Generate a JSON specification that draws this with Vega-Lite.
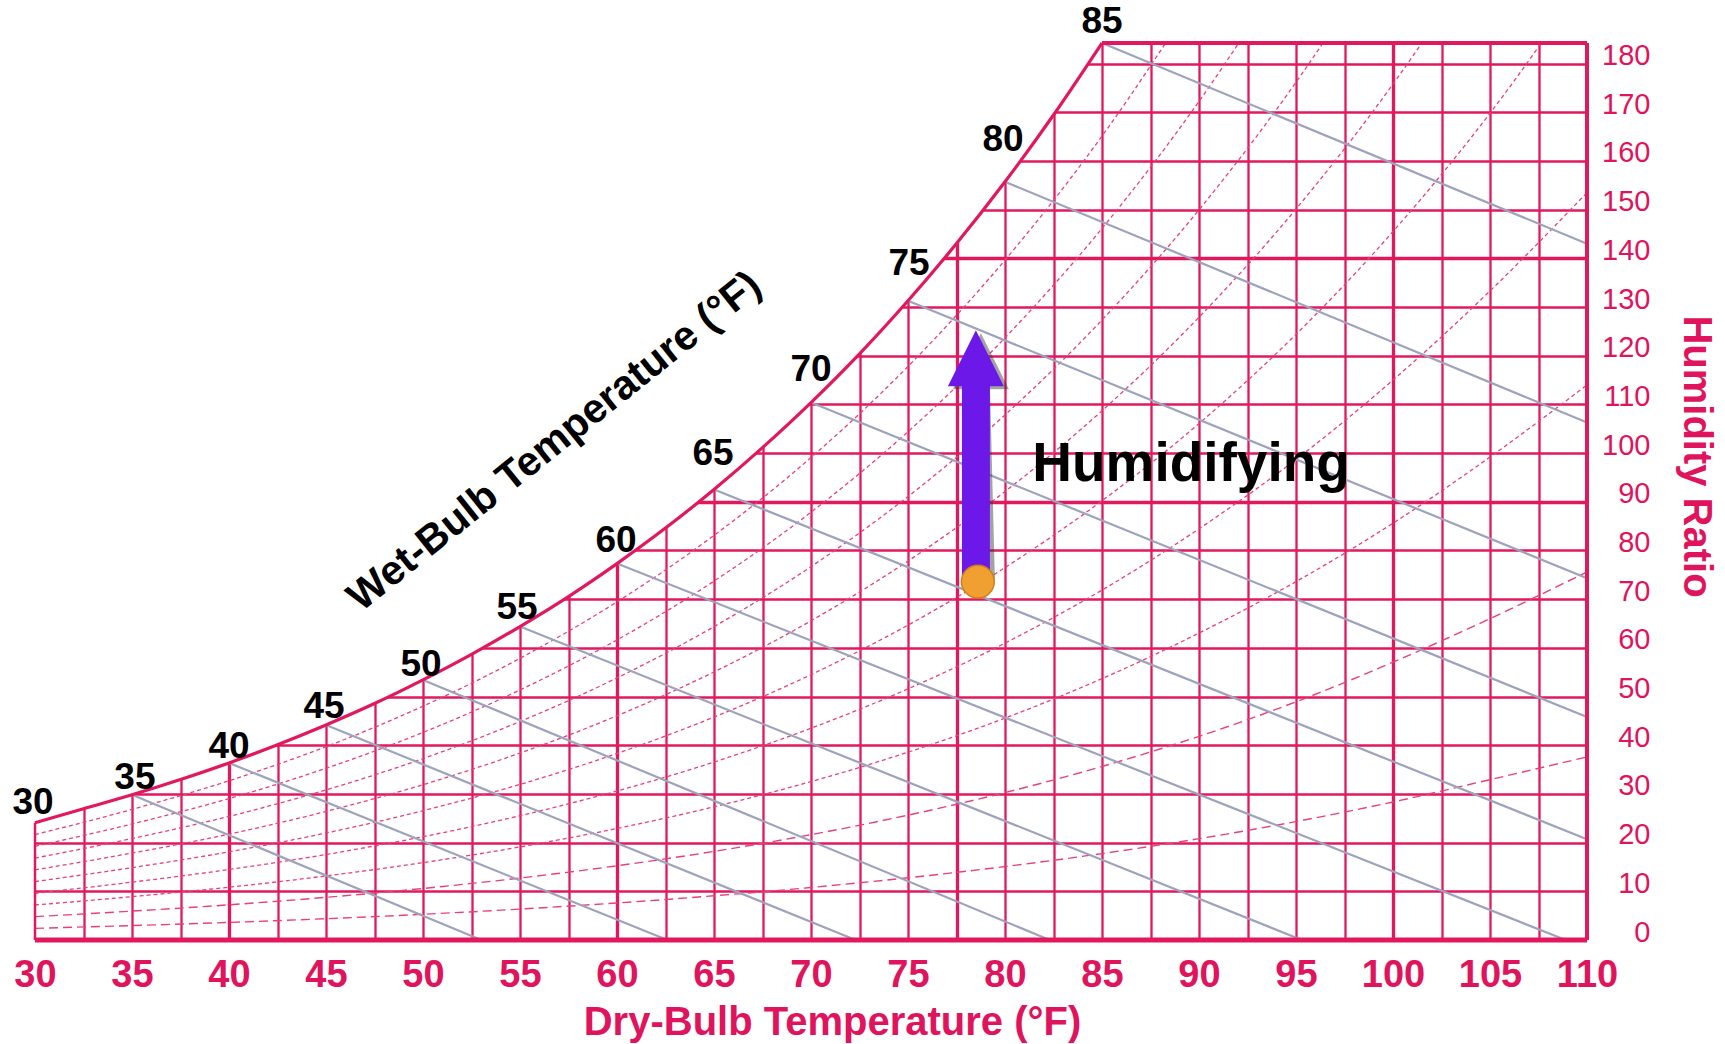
{
  "$schema": "https://vega.github.io/schema/vega-lite/v6.json",
  "width": 1552,
  "height": 897,
  "autosize": {"type": "none"},
  "padding": {"left": 35, "top": 43, "right": 138, "bottom": 104},
  "background": "white",
  "view": {"stroke": null},
  "config": {"font": "Liberation Sans"},
  "datasets": {
    "sat": [
      {"t": 30, "w": 24.07}, {"t": 32.5, "w": 26.95}, {"t": 35, "w": 29.82}, {"t": 37.5, "w": 32.96},
      {"t": 40, "w": 36.37}, {"t": 42.5, "w": 40.10}, {"t": 45, "w": 44.16}, {"t": 47.5, "w": 48.56},
      {"t": 50, "w": 53.42}, {"t": 52.5, "w": 58.67}, {"t": 55, "w": 64.38}, {"t": 57.5, "w": 70.54},
      {"t": 60, "w": 77.31}, {"t": 62.5, "w": 84.60}, {"t": 65, "w": 92.53}, {"t": 67.5, "w": 101.13},
      {"t": 70, "w": 110.38}, {"t": 72.5, "w": 120.38}, {"t": 75, "w": 131.29}, {"t": 77.5, "w": 143.03},
      {"t": 80, "w": 155.72}, {"t": 82.5, "w": 169.44}, {"t": 85, "w": 184.23}
    ],
    "rh": [
      {"rh": 10, "t": 30, "w": 2.395}, {"rh": 10, "t": 35, "w": 2.964}, {"rh": 10, "t": 40, "w": 3.61}, {"rh": 10, "t": 45, "w": 4.376}, {"rh": 10, "t": 50, "w": 5.284}, {"rh": 10, "t": 55, "w": 6.353}, {"rh": 10, "t": 60, "w": 7.609}, {"rh": 10, "t": 65, "w": 9.079}, {"rh": 10, "t": 70, "w": 10.791}, {"rh": 10, "t": 75, "w": 12.782}, {"rh": 10, "t": 80, "w": 15.086}, {"rh": 10, "t": 85, "w": 17.747}, {"rh": 10, "t": 90, "w": 20.809}, {"rh": 10, "t": 95, "w": 24.323}, {"rh": 10, "t": 100, "w": 28.345}, {"rh": 10, "t": 105, "w": 32.933}, {"rh": 10, "t": 110, "w": 37.6},
      {"rh": 20, "t": 30, "w": 4.793}, {"rh": 20, "t": 35, "w": 5.932}, {"rh": 20, "t": 40, "w": 7.225}, {"rh": 20, "t": 45, "w": 8.762}, {"rh": 20, "t": 50, "w": 10.581}, {"rh": 20, "t": 55, "w": 12.725}, {"rh": 20, "t": 60, "w": 15.245}, {"rh": 20, "t": 65, "w": 18.197}, {"rh": 20, "t": 70, "w": 21.637}, {"rh": 20, "t": 75, "w": 25.639}, {"rh": 20, "t": 80, "w": 30.278}, {"rh": 20, "t": 85, "w": 35.64}, {"rh": 20, "t": 90, "w": 41.819}, {"rh": 20, "t": 95, "w": 48.921}, {"rh": 20, "t": 100, "w": 57.06}, {"rh": 20, "t": 105, "w": 66.0}, {"rh": 20, "t": 110, "w": 75.6},
      {"rh": 30, "t": 30, "w": 7.193}, {"rh": 30, "t": 35, "w": 8.904}, {"rh": 30, "t": 40, "w": 10.846}, {"rh": 30, "t": 45, "w": 13.156}, {"rh": 30, "t": 50, "w": 15.89}, {"rh": 30, "t": 55, "w": 19.116}, {"rh": 30, "t": 60, "w": 22.907}, {"rh": 30, "t": 65, "w": 27.352}, {"rh": 30, "t": 70, "w": 32.535}, {"rh": 30, "t": 75, "w": 38.572}, {"rh": 30, "t": 80, "w": 45.575}, {"rh": 30, "t": 85, "w": 53.68}, {"rh": 30, "t": 90, "w": 63.031}, {"rh": 30, "t": 95, "w": 73.6}, {"rh": 30, "t": 100, "w": 85.6}, {"rh": 30, "t": 105, "w": 99.2}, {"rh": 30, "t": 110, "w": 114.0},
      {"rh": 40, "t": 30, "w": 9.597}, {"rh": 40, "t": 35, "w": 11.881}, {"rh": 40, "t": 40, "w": 14.474}, {"rh": 40, "t": 45, "w": 17.559}, {"rh": 40, "t": 50, "w": 21.213}, {"rh": 40, "t": 55, "w": 25.525}, {"rh": 40, "t": 60, "w": 30.597}, {"rh": 40, "t": 65, "w": 36.546}, {"rh": 40, "t": 70, "w": 43.489}, {"rh": 40, "t": 75, "w": 51.582}, {"rh": 40, "t": 80, "w": 60.98}, {"rh": 40, "t": 85, "w": 71.867}, {"rh": 40, "t": 90, "w": 84.449}, {"rh": 40, "t": 95, "w": 98.7}, {"rh": 40, "t": 100, "w": 115.0}, {"rh": 40, "t": 105, "w": 133.3}, {"rh": 40, "t": 110, "w": 153.5},
      {"rh": 50, "t": 30, "w": 12.002}, {"rh": 50, "t": 35, "w": 14.861}, {"rh": 50, "t": 40, "w": 18.108}, {"rh": 50, "t": 45, "w": 21.971}, {"rh": 50, "t": 50, "w": 26.548}, {"rh": 50, "t": 55, "w": 31.953}, {"rh": 50, "t": 60, "w": 38.313}, {"rh": 50, "t": 65, "w": 45.779}, {"rh": 50, "t": 70, "w": 54.497}, {"rh": 50, "t": 75, "w": 64.669}, {"rh": 50, "t": 80, "w": 76.492}, {"rh": 50, "t": 85, "w": 90.208}, {"rh": 50, "t": 90, "w": 106.073}, {"rh": 50, "t": 95, "w": 124.398}, {"rh": 50, "t": 100, "w": 145.511}, {"rh": 50, "t": 105, "w": 169.8}, {"rh": 50, "t": 110, "w": 197.666},
      {"rh": 60, "t": 30, "w": 14.411}, {"rh": 60, "t": 35, "w": 17.846}, {"rh": 60, "t": 40, "w": 21.747}, {"rh": 60, "t": 45, "w": 26.392}, {"rh": 60, "t": 50, "w": 31.897}, {"rh": 60, "t": 55, "w": 38.4}, {"rh": 60, "t": 60, "w": 46.057}, {"rh": 60, "t": 65, "w": 55.05}, {"rh": 60, "t": 70, "w": 65.561}, {"rh": 60, "t": 75, "w": 77.834}, {"rh": 60, "t": 80, "w": 92.114}, {"rh": 60, "t": 85, "w": 108.699}, {"rh": 60, "t": 90, "w": 127.914}, {"rh": 60, "t": 95, "w": 150.135}, {"rh": 60, "t": 100, "w": 175.789}, {"rh": 60, "t": 105, "w": 205.36},
      {"rh": 70, "t": 30, "w": 16.822}, {"rh": 70, "t": 35, "w": 20.834}, {"rh": 70, "t": 40, "w": 25.393}, {"rh": 70, "t": 45, "w": 30.821}, {"rh": 70, "t": 50, "w": 37.258}, {"rh": 70, "t": 55, "w": 44.866}, {"rh": 70, "t": 60, "w": 53.828}, {"rh": 70, "t": 65, "w": 64.361}, {"rh": 70, "t": 70, "w": 76.68}, {"rh": 70, "t": 75, "w": 91.077}, {"rh": 70, "t": 80, "w": 107.846}, {"rh": 70, "t": 85, "w": 127.345}, {"rh": 70, "t": 90, "w": 149.967}, {"rh": 70, "t": 95, "w": 176.17}, {"rh": 70, "t": 100, "w": 206.48},
      {"rh": 80, "t": 30, "w": 19.236}, {"rh": 80, "t": 35, "w": 23.827}, {"rh": 80, "t": 40, "w": 29.045}, {"rh": 80, "t": 45, "w": 35.26}, {"rh": 80, "t": 50, "w": 42.633}, {"rh": 80, "t": 55, "w": 51.351}, {"rh": 80, "t": 60, "w": 61.627}, {"rh": 80, "t": 65, "w": 73.711}, {"rh": 80, "t": 70, "w": 87.855}, {"rh": 80, "t": 75, "w": 104.4}, {"rh": 80, "t": 80, "w": 123.691}, {"rh": 80, "t": 85, "w": 146.148}, {"rh": 80, "t": 90, "w": 172.24}, {"rh": 80, "t": 95, "w": 202.51},
      {"rh": 90, "t": 30, "w": 21.652}, {"rh": 90, "t": 35, "w": 26.823}, {"rh": 90, "t": 40, "w": 32.702}, {"rh": 90, "t": 45, "w": 39.707}, {"rh": 90, "t": 50, "w": 48.021}, {"rh": 90, "t": 55, "w": 57.855}, {"rh": 90, "t": 60, "w": 69.452}, {"rh": 90, "t": 65, "w": 83.102}, {"rh": 90, "t": 70, "w": 99.087}, {"rh": 90, "t": 75, "w": 117.803}, {"rh": 90, "t": 80, "w": 139.648}, {"rh": 90, "t": 85, "w": 165.109}, {"rh": 90, "t": 90, "w": 194.73}
    ],
    "wb": [
      {"wb": 35, "t": 35, "w": 29.82}, {"wb": 35, "t": 53.0, "w": 0},
      {"wb": 40, "t": 40, "w": 36.37}, {"wb": 40, "t": 62.6, "w": 0},
      {"wb": 45, "t": 45, "w": 44.16}, {"wb": 45, "t": 72.3, "w": 0},
      {"wb": 50, "t": 50, "w": 53.42}, {"wb": 50, "t": 82.3, "w": 0},
      {"wb": 55, "t": 55, "w": 64.38}, {"wb": 55, "t": 95.3, "w": 0},
      {"wb": 60, "t": 60, "w": 77.31}, {"wb": 60, "t": 108.9, "w": 0},
      {"wb": 65, "t": 65, "w": 92.53}, {"wb": 65, "t": 110, "w": 20.7},
      {"wb": 70, "t": 70, "w": 110.38}, {"wb": 70, "t": 110, "w": 45.8},
      {"wb": 75, "t": 75, "w": 131.29}, {"wb": 75, "t": 110, "w": 74.3},
      {"wb": 80, "t": 80, "w": 155.72}, {"wb": 80, "t": 110, "w": 106.3},
      {"wb": 85, "t": 85, "w": 184.23}, {"wb": 85, "t": 110, "w": 143.0}
    ],
    "wbl": [
      {"txt": "30", "t": 29.9, "w": 28.1}, {"txt": "35", "t": 35.15, "w": 33.3},
      {"txt": "40", "t": 40.0, "w": 39.6}, {"txt": "45", "t": 44.9, "w": 47.8},
      {"txt": "50", "t": 49.9, "w": 56.5}, {"txt": "55", "t": 54.85, "w": 68.2},
      {"txt": "60", "t": 59.95, "w": 81.9}, {"txt": "65", "t": 64.95, "w": 99.8},
      {"txt": "70", "t": 70.0, "w": 117.0}, {"txt": "75", "t": 75.05, "w": 138.8},
      {"txt": "80", "t": 79.9, "w": 164.3}, {"txt": "85", "t": 85.0, "w": 188.5}
    ]
  },
  "encoding": {
    "x": {
      "field": "t", "type": "quantitative",
      "scale": {"domain": [30, 110], "nice": false, "zero": false},
      "axis": {
        "values": [30, 32.5, 35, 37.5, 40, 42.5, 45, 47.5, 50, 52.5, 55, 57.5, 60, 62.5, 65, 67.5, 70, 72.5, 75, 77.5, 80, 82.5, 85, 87.5, 90, 92.5, 95, 97.5, 100, 102.5, 105, 107.5, 110],
        "labelExpr": "datum.value % 5 === 0 ? datum.label : ''",
        "labelOverlap": false, "labelBound": false, "labelFlush": false,
        "grid": true, "gridColor": "#e2185e",
        "gridWidth": {"condition": {"test": "indexof([40, 60, 77.5, 100], datum.value) >= 0", "value": 3.3}, "value": 2.3},
        "gridOpacity": {"condition": {"test": "datum.value === 30 || datum.value === 110", "value": 0}, "value": 1},
        "domain": false, "ticks": false, "tickSize": 0, "labelPadding": 16,
        "labelFont": "Liberation Sans", "labelFontWeight": "bold", "labelFontSize": 38, "labelColor": "#e0135d",
        "title": "Dry-Bulb Temperature (°F)", "titleFont": "Liberation Sans", "titleFontSize": 40, "titleFontWeight": "bold", "titleColor": "#e0135d",
        "titleX": 797, "titleY": 94, "titleBaseline": "alphabetic", "titleAlign": "center", "titleAnchor": null
      }
    },
    "y": {
      "field": "w", "type": "quantitative",
      "scale": {"domain": [0, 184.23], "nice": false, "zero": false},
      "axis": {
        "orient": "right",
        "values": [0, 10, 20, 30, 40, 50, 60, 70, 80, 90, 100, 110, 120, 130, 140, 150, 160, 170, 180],
        "labelOverlap": false, "labelBound": false, "labelFlush": false,
        "grid": true, "gridColor": "#e2185e",
        "gridWidth": {"condition": {"test": "indexof([90, 140], datum.value) >= 0", "value": 3.3}, "value": 2.3},
        "gridOpacity": {"condition": {"test": "datum.value === 0", "value": 0}, "value": 1},
        "domain": false, "ticks": false, "tickSize": 0, "labelPadding": 63, "labelAlign": "right", "labelOffset": -8,
        "labelFont": "Liberation Sans", "labelFontSize": 29, "labelColor": "#e0135d",
        "title": "Humidity Ratio", "titleFont": "Liberation Sans", "titleFontSize": 40, "titleFontWeight": "bold", "titleColor": "#e0135d",
        "titleAngle": 90, "titleX": 108, "titleY": 413, "titleAlign": "center", "titleBaseline": "middle", "titleAnchor": null
      }
    }
  },
  "layer": [
    {
      "data": {"name": "sat"},
      "mark": {"type": "area", "fill": "white", "interpolate": "monotone", "stroke": null},
      "encoding": {"y2": {"datum": 184.23}}
    },
    {
      "data": {"name": "rh"},
      "transform": [{"filter": "datum.rh <= 20"}],
      "mark": {"type": "line", "clip": true, "interpolate": "monotone", "color": "#e8407a", "strokeWidth": 1.4, "strokeDash": [9, 5]},
      "encoding": {"detail": {"field": "rh", "type": "nominal"}}
    },
    {
      "data": {"name": "rh"},
      "transform": [{"filter": "datum.rh > 20"}],
      "mark": {"type": "line", "clip": true, "interpolate": "monotone", "color": "#e8407a", "strokeWidth": 1.3, "strokeDash": [4, 3]},
      "encoding": {"detail": {"field": "rh", "type": "nominal"}}
    },
    {
      "data": {"name": "wb"},
      "mark": {"type": "line", "color": "#9ea3bd", "strokeWidth": 2.2},
      "encoding": {"detail": {"field": "wb", "type": "nominal"}}
    },
    {
      "data": {"name": "sat"},
      "mark": {"type": "line", "interpolate": "monotone", "color": "#e2185e", "strokeWidth": 3.2},
      "encoding": {}
    },
    {
      "data": {"values": [{"t": 30, "w": 0, "t2": 110, "w2": 0}]},
      "mark": {"type": "rule", "color": "#e2185e", "strokeWidth": 5},
      "encoding": {"x2": {"field": "t2"}, "y2": {"field": "w2"}}
    },
    {
      "data": {"values": [{"t": 110, "w": 0, "t2": 110, "w2": 184.23}, {"t": 85, "w": 184.23, "t2": 110, "w2": 184.23}]},
      "mark": {"type": "rule", "color": "#e2185e", "strokeWidth": 4},
      "encoding": {"x2": {"field": "t2"}, "y2": {"field": "w2"}}
    },
    {
      "data": {"values": [{"t": 30, "w": 0, "t2": 30, "w2": 24.07}]},
      "mark": {"type": "rule", "color": "#e2185e", "strokeWidth": 2.5},
      "encoding": {"x2": {"field": "t2"}, "y2": {"field": "w2"}}
    },
    {
      "data": {"values": [{"t": 78.5, "w": 74.5, "t2": 78.5, "w2": 114.0}]},
      "mark": {"type": "rule", "color": "#333333", "opacity": 0.45, "strokeWidth": 28, "xOffset": 5, "yOffset": 3},
      "encoding": {"x2": {"field": "t2"}, "y2": {"field": "w2"}}
    },
    {
      "data": {"values": [{"t": 78.5, "w": 119.5}]},
      "mark": {"type": "point", "shape": "M0,-1L1,1L-1,1Z", "size": 3136, "filled": true, "color": "#333333", "opacity": 0.45, "xOffset": 5, "yOffset": 3},
      "encoding": {}
    },
    {
      "data": {"values": [{"t": 78.5, "w": 74.5, "t2": 78.5, "w2": 114.0}]},
      "mark": {"type": "rule", "color": "#6b18e8", "strokeWidth": 28},
      "encoding": {"x2": {"field": "t2"}, "y2": {"field": "w2"}}
    },
    {
      "data": {"values": [{"t": 78.5, "w": 119.5}]},
      "mark": {"type": "point", "shape": "M0,-1L1,1L-1,1Z", "size": 3136, "filled": true, "color": "#6b18e8", "opacity": 1},
      "encoding": {}
    },
    {
      "data": {"values": [{"t": 78.6, "w": 73.6}]},
      "mark": {"type": "point", "shape": "circle", "size": 1075, "filled": true, "fill": "#f0a030", "stroke": "#cf7f18", "strokeWidth": 1.5, "opacity": 1},
      "encoding": {}
    },
    {
      "data": {"name": "wbl"},
      "mark": {"type": "text", "font": "Liberation Sans", "fontWeight": "bold", "fontSize": 37, "color": "black", "align": "center", "baseline": "middle"},
      "encoding": {"text": {"field": "txt"}}
    },
    {
      "data": {"values": [{"txt": "Wet-Bulb Temperature (°F)", "t": 56.8, "w": 102.3}]},
      "mark": {"type": "text", "font": "Liberation Sans", "fontWeight": "bold", "fontSize": 41, "color": "black", "align": "center", "baseline": "middle", "angle": -38.7},
      "encoding": {"text": {"field": "txt"}}
    },
    {
      "data": {"values": [{"txt": "Humidifying", "t": 81.4, "w": 94.25}]},
      "mark": {"type": "text", "font": "Liberation Sans", "fontWeight": "bold", "fontSize": 55, "color": "black", "align": "left", "baseline": "alphabetic"},
      "encoding": {"text": {"field": "txt"}}
    }
  ]
}
